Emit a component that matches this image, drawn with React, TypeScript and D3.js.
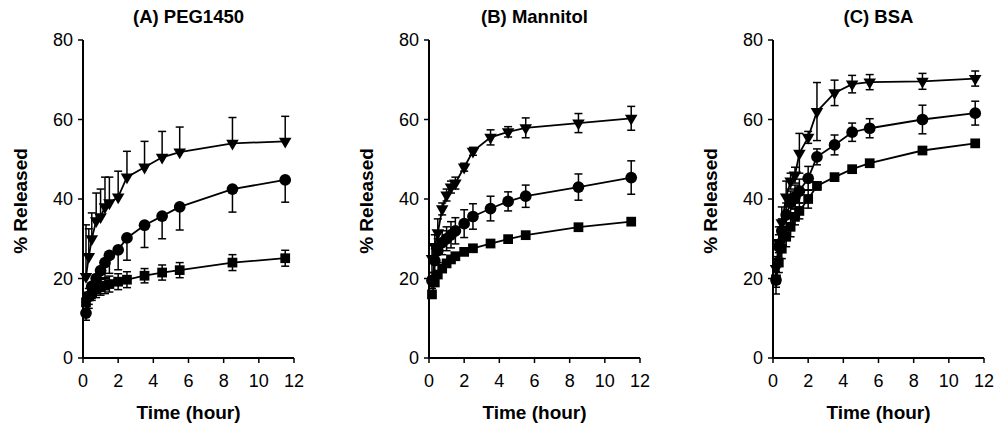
import React from "react";
import * as d3 from "d3";

// sampling times (hour)
const times = [0.17, 0.33, 0.5, 0.75, 1, 1.25, 1.5, 2, 2.5, 3.5, 4.5, 5.5, 8.5, 11.5];

// (A) PEG1450
const pegTri = [20.5, 25.5, 30, 34.5, 35.5, 38, 39, 40.5, 45.5, 48, 50.5, 51.8, 54, 54.5];
const pegTriSd = [13, 7, 6.5, 7, 7, 7.5, 6.5, 6.5, 6.5, 6.5, 6.5, 6.3, 6.5, 6.3];
const pegCir = [11.3, 15.5, 18, 20, 22, 24, 25.8, 27.2, 30.2, 33.4, 35.7, 38, 42.5, 44.8];
const pegCirSd = [1.8, 3, 3, 3, 3.5, 4, 4.5, 5, 5.6, 5.6, 5.7, 5.8, 5.8, 5.6];
const pegSq = [14, 15.5, 16.5, 17.2, 17.8, 18.2, 18.6, 19.2, 19.7, 20.7, 21.5, 22.1, 24, 25.1];
const pegSqSd = [2, 2, 2, 2, 2, 2, 2, 2, 2, 1.8, 1.9, 1.9, 2, 2];

// (B) Mannitol
const manTri = [25, 28, 31.5, 37.5, 41, 43, 44, 48, 52, 55.5, 56.9, 57.9, 59.1, 60.3];
const manTriSd = [3.5, 3, 3.5, 1.5, 1.5, 1.5, 1.5, 1, 1, 1.9, 1.3, 2.5, 2.4, 3];
const manCir = [19.5, 24.5, 27, 29, 30, 31, 32, 33.8, 35.6, 37.6, 39.4, 40.7, 43, 45.4];
const manCirSd = [2, 3, 3, 3, 3, 3.3, 3.3, 3.5, 3.2, 3.1, 2.4, 2.8, 3.3, 4.2];
const manSq = [16, 19, 21, 22.5, 23.8, 24.8, 25.6, 26.7, 27.6, 28.8, 29.9, 30.9, 32.9, 34.3];
const manSqSd = [0.8, 0.8, 0.8, 0.8, 0.8, 0.8, 0.8, 0.8, 0.8, 0.8, 0.8, 0.8, 0.8, 0.8];

// (C) BSA
const bsaTri = [22.5, 29, 34, 40.5, 44.5, 46, 51.5, 55.5, 62, 66.7, 68.9, 69.4, 69.6, 70.3];
const bsaTriSd = [3, 4, 4, 4, 2, 2, 5, 1.5, 7.3, 3.2, 2.2, 1.9, 2, 1.9];
const bsaCir = [19.6, 28, 32, 36, 39, 40.5, 42, 45.2, 50.6, 53.6, 56.8, 57.8, 60, 61.6];
const bsaCirSd = [3.5, 3, 3, 3, 3, 3, 3, 3, 2, 2.5, 2.3, 2.4, 3.6, 3];
const bsaSq = [19.8, 24, 27.5, 30.5, 33, 35.5, 37, 40, 43.3, 45.5, 47.5, 49, 52.2, 54];
const bsaSqSd = [2, 2.5, 2.5, 2.5, 2.5, 2, 2, 2.3, 1, 0.8, 0.8, 0.8, 0.8, 0.8];

const titles = ["(A) PEG1450", "(B) Mannitol", "(C) BSA"];
const xTicks = [0, 2, 4, 6, 8, 10, 12];
const yTicks = [0, 20, 40, 60, 80];

const font = "'Liberation Sans', Arial, Helvetica, sans-serif";

const panels = [
  {
    title: titles[0],
    left: 83,
    series: [
      { shape: "square", v: pegSq, sd: pegSqSd, up: true, down: true },
      { shape: "circle", v: pegCir, sd: pegCirSd, up: false, down: true },
      { shape: "triangle", v: pegTri, sd: pegTriSd, up: true, down: false },
    ],
  },
  {
    title: titles[1],
    left: 429,
    series: [
      { shape: "square", v: manSq, sd: manSqSd, up: true, down: true },
      { shape: "circle", v: manCir, sd: manCirSd, up: true, down: true },
      { shape: "triangle", v: manTri, sd: manTriSd, up: true, down: true },
    ],
  },
  {
    title: titles[2],
    left: 773,
    series: [
      { shape: "square", v: bsaSq, sd: bsaSqSd, up: true, down: true },
      { shape: "circle", v: bsaCir, sd: bsaCirSd, up: true, down: true },
      { shape: "triangle", v: bsaTri, sd: bsaTriSd, up: true, down: true },
    ],
  },
];

const symbols: Record<string, { type: d3.SymbolType; size: number; rot: number }> = {
  square: { type: d3.symbolSquare, size: 95, rot: 0 },
  circle: { type: d3.symbolCircle, size: 108, rot: 0 },
  triangle: { type: d3.symbolTriangle, size: 68, rot: 180 },
};

const plotW = 211;
const top = 40;
const bottom = 358;

const Panel = ({ p }: { p: (typeof panels)[number] }) => {
  const x = d3.scaleLinear().domain([0, 12]).range([p.left, p.left + plotW]);
  const y = d3.scaleLinear().domain([0, 80]).range([bottom, top]);
  const line = d3
    .line<number>()
    .x((_, i) => x(times[i]))
    .y((d) => y(d));
  const cx = p.left + plotW / 2;

  return (
    <g>
      <text x={cx} y={23} textAnchor="middle" fontFamily={font} fontWeight="bold" fontSize={18.5}>
        {p.title}
      </text>

      {/* axes */}
      <line x1={p.left} x2={p.left} y1={top} y2={bottom} stroke="#000" strokeWidth={2} />
      <line x1={p.left} x2={p.left + plotW} y1={bottom} y2={bottom} stroke="#000" strokeWidth={2} />
      {yTicks.map((t) => (
        <g key={"y" + t}>
          <line x1={p.left - 5} x2={p.left} y1={y(t)} y2={y(t)} stroke="#000" strokeWidth={1.5} />
          <text
            x={p.left - 10}
            y={y(t)}
            dy="0.36em"
            textAnchor="end"
            fontFamily={font}
            fontSize={18}
          >
            {t}
          </text>
        </g>
      ))}
      {xTicks.map((t) => (
        <g key={"x" + t}>
          <line x1={x(t)} x2={x(t)} y1={bottom} y2={bottom + 5} stroke="#000" strokeWidth={1.5} />
          <text x={x(t)} y={387} textAnchor="middle" fontFamily={font} fontSize={18}>
            {t}
          </text>
        </g>
      ))}
      <text x={cx} y={419} textAnchor="middle" fontFamily={font} fontWeight="bold" fontSize={19}>
        Time (hour)
      </text>
      <text
        transform={`translate(${p.left - 56},${(top + bottom) / 2 + 2}) rotate(-90)`}
        textAnchor="middle"
        fontFamily={font}
        fontWeight="bold"
        fontSize={19}
      >
        % Released
      </text>

      {/* series */}
      {p.series.map((s, si) => (
        <g key={si}>
          <path d={line(s.v) || ""} fill="none" stroke="#000" strokeWidth={1.8} />
          {s.v.map((v, i) => {
            const px = x(times[i]);
            const hi = s.up ? v + s.sd[i] : v;
            const lo = s.down ? v - s.sd[i] : v;
            return (
              <g key={i} stroke="#000" strokeWidth={1.5}>
                <line x1={px} x2={px} y1={y(hi)} y2={y(lo)} />
                {s.up && <line x1={px - 4} x2={px + 4} y1={y(hi)} y2={y(hi)} />}
                {s.down && <line x1={px - 4} x2={px + 4} y1={y(lo)} y2={y(lo)} />}
              </g>
            );
          })}
          {s.v.map((v, i) => {
            const sym = symbols[s.shape];
            return (
              <path
                key={"m" + i}
                d={d3.symbol(sym.type, sym.size)() || ""}
                transform={`translate(${x(times[i])},${y(v)}) rotate(${sym.rot})`}
                fill="#000"
              />
            );
          })}
        </g>
      ))}
    </g>
  );
};

export default function App() {
  return (
    <svg
      width={999}
      height={430}
      style={{ position: "absolute", left: 0, top: 0, background: "#fff" }}
    >
      <rect width={999} height={430} fill="#fff" />
      {panels.map((p, i) => (
        <Panel key={i} p={p} />
      ))}
    </svg>
  );
}
